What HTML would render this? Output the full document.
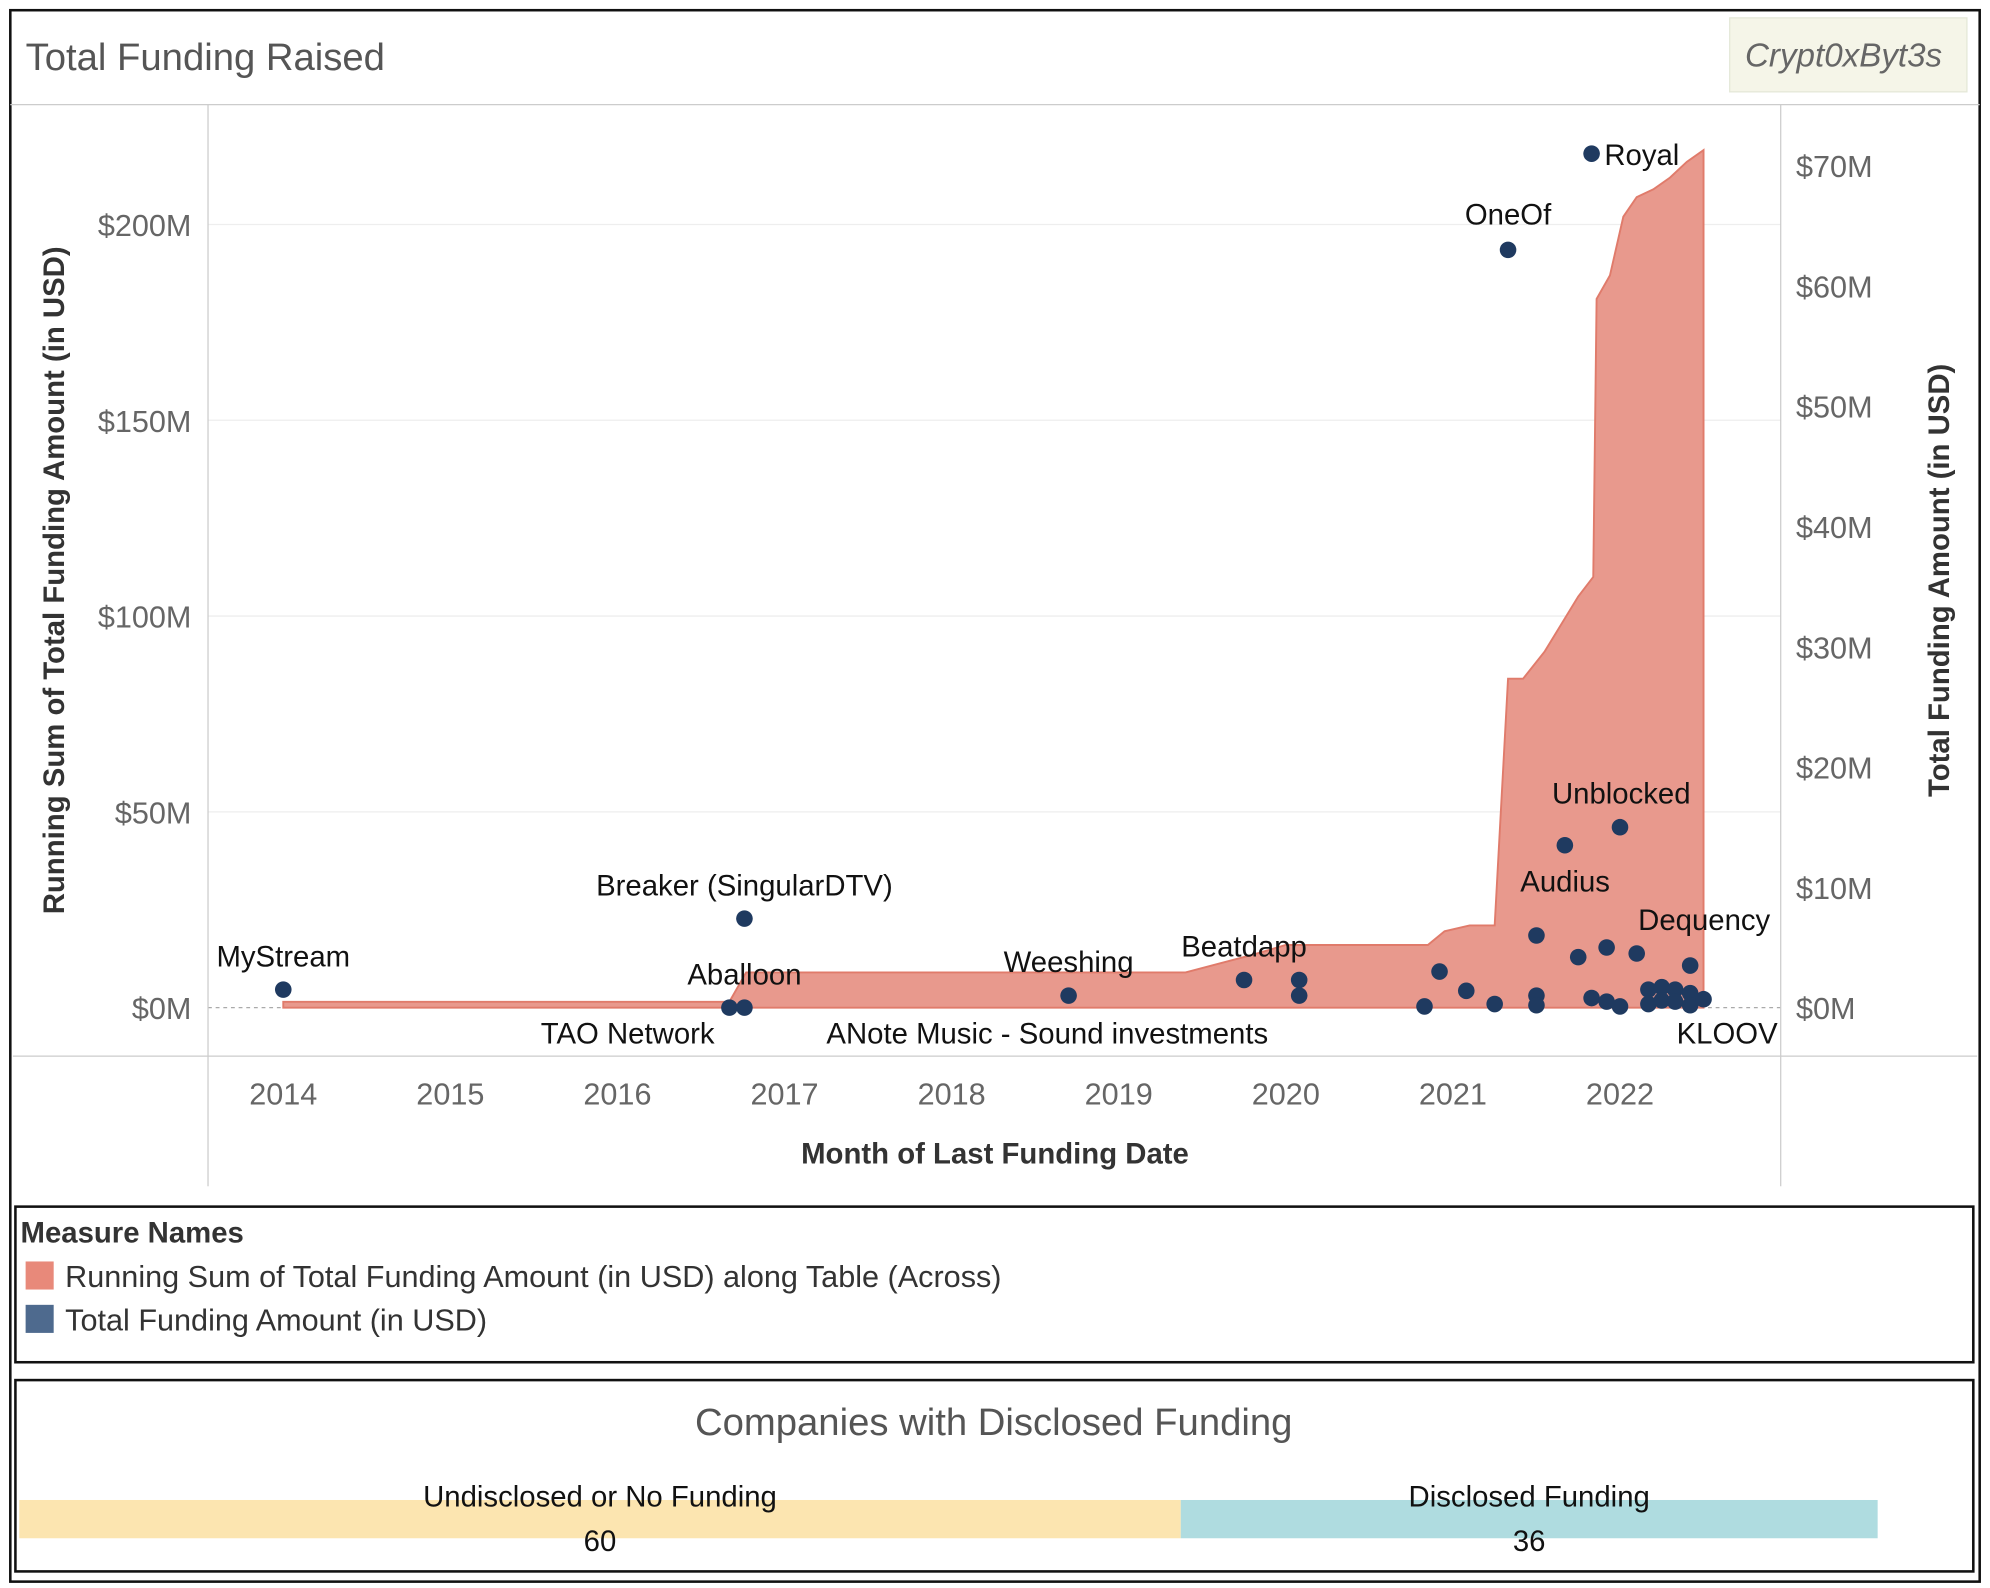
<!DOCTYPE html>
<html><head><meta charset="utf-8"><style>
html,body{margin:0;padding:0;background:#fff}
svg{display:block}
text{font-family:"Liberation Sans",sans-serif}
</style></head><body>
<svg id="chart" width="1990" height="1588" viewBox="0 0 1560 1245" xmlns="http://www.w3.org/2000/svg">
<rect x="0" y="0" width="1560" height="1245" fill="#fff"/>
<rect x="8" y="8" width="1544" height="1232" fill="none" stroke="#111" stroke-width="2"/>
<text x="20" y="55" font-size="30" fill="#555">Total Funding Raised</text>
<g>
<rect x="1356" y="14" width="186" height="58" fill="#f5f5e8" stroke="#e4e8d8"/>
<text x="1368" y="52" font-size="26" fill="#666" font-style="italic" font-family="Liberation Serif,serif">Crypt0xByt3s</text>
</g>
<line x1="8" y1="82" x2="1552" y2="82" stroke="#ccc"/>
<g id="grid"></g>
<line x1="163" y1="82" x2="163" y2="930" stroke="#ccc"/>
<line x1="1396" y1="82" x2="1396" y2="930" stroke="#ccc"/>
<line x1="10" y1="828" x2="1550" y2="828" stroke="#ccc"/>
<g id="area"></g>
<g id="dots"></g>
<g id="labels"></g>
<g id="ticks"></g>
<text transform="translate(50,455) rotate(-90)" text-anchor="middle" font-size="23" font-weight="bold" fill="#333">Running Sum of Total Funding Amount (in USD)</text>
<text transform="translate(1528,455) rotate(-90)" text-anchor="middle" font-size="23" font-weight="bold" fill="#333">Total Funding Amount (in USD)</text>
<text x="780" y="912" text-anchor="middle" font-size="23" font-weight="bold" fill="#333">Month of Last Funding Date</text>
<g>
<rect x="12" y="946" width="1535" height="122" fill="none" stroke="#111" stroke-width="2"/>
<text x="16" y="974" font-size="23" font-weight="bold" fill="#333">Measure Names</text>
<rect x="20" y="989" width="22" height="22" fill="#e8897a"/>
<text x="51" y="1009" font-size="24" fill="#333">Running Sum of Total Funding Amount (in USD) along Table (Across)</text>
<rect x="20" y="1023" width="22" height="22" fill="#4e6a8e"/>
<text x="51" y="1043" font-size="24" fill="#333">Total Funding Amount (in USD)</text>
</g>
<g>
<rect x="12" y="1082" width="1535" height="150" fill="none" stroke="#111" stroke-width="2"/>
<text x="779" y="1125" text-anchor="middle" font-size="30" fill="#555">Companies with Disclosed Funding</text>
<g id="bars"></g>
</g>
<script>
const xYears=[2014,2015,2016,2017,2018,2019,2020,2021,2022];
const leftTicks=[0,50,100,150,200];
const rightTicks=[0,10,20,30,40,50,60,70];
const areaX=[2014.0,2016.67,2016.77,2019.4,2019.8,2020.0,2020.85,2020.95,2021.1,2021.25,2021.33,2021.42,2021.55,2021.75,2021.84,2021.86,2021.94,2022.02,2022.1,2022.2,2022.3,2022.4,2022.5];
const areaV=[1.5,1.5,9,9,13.5,16,16,19.5,21,21,84,84,91,105,110,181,187,202,207,209,212,216,219];
const dotX=[2014.0,2016.76,2016.67,2016.76,2018.7,2019.75,2020.08,2020.08,2020.83,2020.92,2021.08,2021.25,2021.33,2021.5,2021.5,2021.5,2021.67,2021.75,2021.83,2021.83,2021.92,2021.92,2022.0,2022.0,2022.1,2022.17,2022.17,2022.25,2022.25,2022.33,2022.33,2022.42,2022.42,2022.42,2022.5];
const dotV=[1.5,7.4,0,0,1.0,2.3,2.3,1.0,0.1,3.0,1.4,0.3,63,6.0,1.0,0.2,13.5,4.2,71,0.8,5.0,0.5,15,0.1,4.5,1.5,0.3,1.7,0.6,1.5,0.5,3.5,1.2,0.2,0.7];
const dotLabels=[["MyStream",2014.0,1.5],["Breaker (SingularDTV)",2016.76,7.4],["TAO Network",2016.05,-0.2],["Aballoon",2016.76,0],["Weeshing",2018.7,1.0],["Beatdapp",2019.75,2.3],["ANote Music - Sound investments",2019.4,-0.2],["OneOf",2021.33,63],["Royal",2021.83,71],["Unblocked",2022.0,15],["Audius",2021.67,8],["Dequency",2022.42,3.5],["KLOOV",2022.3,-0.2]];
const barCats=["Undisclosed or No Funding","Disclosed Funding"];
const barVals=[60,36];
const NS="http://www.w3.org/2000/svg";
const x=y=>222+(y-2014)*131;
const yL=v=>790-v*3.07;
const yR=v=>790-v*9.43;
function mk(tag,attrs,parent,txt){const e=document.createElementNS(NS,tag);for(const k in attrs)e.setAttribute(k,attrs[k]);if(txt!==undefined)e.textContent=txt;document.getElementById(parent).appendChild(e);return e;}
leftTicks.forEach(t=>{
 const g=mk('line',{x1:163,x2:1396,y1:yL(t),y2:yL(t),stroke:t===0?'#aaa':'#eee','stroke-dasharray':t===0?'3,3':''},'grid');
 
 
 const l=mk('text',{x:150,y:yL(t)+9,'text-anchor':'end','font-size':24,fill:'#666'},'ticks','$'+t+'M');
 
 
});
rightTicks.forEach(t=>{
 const l=mk('text',{x:1408,y:yR(t)+9,'font-size':24,fill:'#666'},'ticks','$'+t+'M');
 
 
});
xYears.forEach(yr=>{
 const l=mk('text',{x:x(yr),y:866,'text-anchor':'middle','font-size':24,fill:'#666'},'ticks',String(yr));
 
 
});
let d='M'+x(areaX[0])+','+yL(0);
areaX.forEach((a,i)=>{d+=' L'+x(a)+','+yL(areaV[i]);});
d+=' L'+x(areaX[areaX.length-1])+','+yL(0)+' Z';
const ar=mk('path',{d:d,fill:'#e8998d',stroke:'#e07b6b','stroke-width':1.5},'area');


dotX.forEach((a,i)=>{
 const c=mk('circle',{cx:x(a),cy:yR(dotV[i]),r:6.5,fill:'#1f3a60'},'dots');
 
 
});
dotLabels.forEach(([t,a,v])=>{
 let tx=x(a),ty=yR(v)-18,anchor='middle';
 if(t==='Royal'){tx=x(a)+10;ty=yR(v)+9;anchor='start';}
 if(v<0){ty=818;}
 if(t==='TAO Network'){tx=492;}
 if(t==='ANote Music - Sound investments'){tx=821;}
 if(t==='KLOOV'){tx=1354;}
 if(t==='Audius'){tx=1227;ty=699;}
 if(t==='Unblocked'){tx=1271;ty=630;}
 if(t==='Dequency'){tx=1336;ty=729;}
 if(t==='Aballoon'){ty=772;}
 if(t==='Beatdapp'){ty=750;}
 if(t==='Weeshing'){ty=762;}
 if(t==='OneOf'){ty=176;}
 const l=mk('text',{x:tx,y:ty,'text-anchor':anchor,'font-size':23,fill:'#111'},'labels',t);
 
 
});
const total=barVals[0]+barVals[1];
const bx=v=>15+v/total*1457;
let acc=0;const cols=['#fce5b0','#afdce0'];
barVals.forEach((v,i)=>{
 const x0=bx(acc),x1=bx(acc+v);acc+=v;
 const r=mk('rect',{x:x0,y:1176,width:x1-x0,height:30,fill:cols[i]},'bars');
 
 
 const t1=mk('text',{x:(x0+x1)/2,y:1181,'text-anchor':'middle','font-size':23,fill:'#111'},'bars',barCats[i]);
 
 
 const t2=mk('text',{x:(x0+x1)/2,y:1216,'text-anchor':'middle','font-size':23,fill:'#111'},'bars',String(v));
 
 
});
</script>
</svg>
</body></html>
